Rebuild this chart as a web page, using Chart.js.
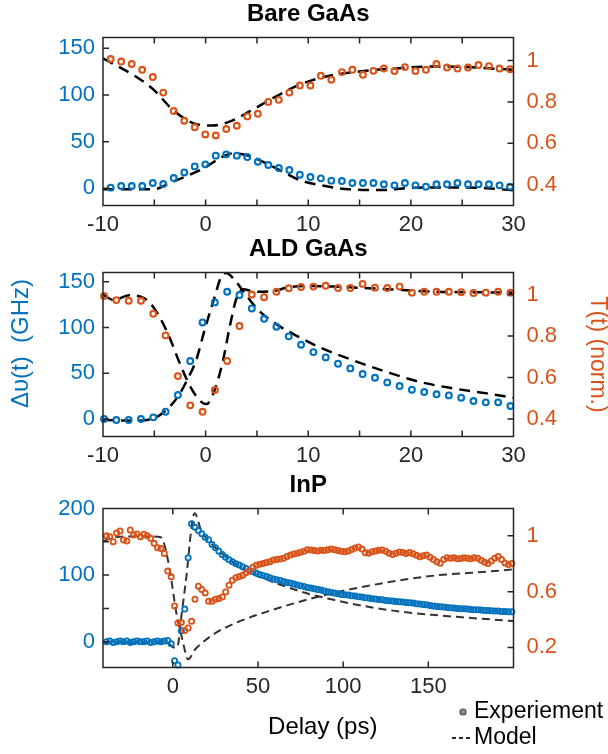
<!DOCTYPE html>
<html>
<head>
<meta charset="utf-8">
<script src="https://cdn.jsdelivr.net/npm/chart.js@4.4.0/dist/chart.umd.min.js"></script>
<style>
  html, body { margin: 0; background: #fff; }
  #fig { position: relative; width: 608px; height: 754px; }
  #fig canvas { position: absolute; left: 0; top: 0; }
</style>
</head>
<body>
<div id="fig">
  <canvas id="bare" width="608" height="754"></canvas>
  <canvas id="ald" width="608" height="754"></canvas>
  <canvas id="inp" width="608" height="754"></canvas>
</div>
<script>
// ---- Bare GaAs ----
const bareDelay = [-9.25, -8.23, -7.2, -6.18, -5.15, -4.13, -3.11, -2.08, -1.06, -0.03, 0.99, 2.01, 3.04,
  4.06, 5.09, 6.11, 7.13, 8.16, 9.18, 10.21, 11.23, 12.25, 13.28, 14.3, 15.33, 16.35, 17.37, 18.4,
  19.42, 20.45, 21.47, 22.49, 23.52, 24.54, 25.57, 26.59, 27.61, 28.64, 29.66];
const bareShift = [0.7, 2.5, 2.5, 2.5, 5.7, 4.6, 11, 17, 23.5, 25.7, 35, 36.4, 35, 33.5, 28.5, 25, 21.7,
  19.6, 14.6, 12.1, 10.7, 8.2, 7.8, 5.7, 5.7, 5.7, 4.3, 3.2, 5.7, 3.2, 1.8, 4.3, 4.3, 5.7, 4.3, 4.3,
  4.3, 3.2, 1.8];
const bareTrans = [1.007, 0.995, 0.983, 0.955, 0.92, 0.845, 0.756, 0.709, 0.678, 0.643, 0.638, 0.669,
  0.685, 0.73, 0.743, 0.8, 0.81, 0.845, 0.879, 0.879, 0.926, 0.907, 0.944, 0.955, 0.931, 0.95, 0.961,
  0.949, 0.968, 0.949, 0.955, 0.983, 0.966, 0.961, 0.966, 0.978, 0.973, 0.961, 0.958];
const bareModelShiftDelay = [-10, -5.1, -3.19, -1.24, 0.05, 1.35, 2.65, 3.95, 5.25, 7.2, 9.15, 11.1, 14,
  17.3, 20.5, 25.4, 30];
const bareModelShift = [-1, -1, 7.1, 16, 23, 32, 37.5, 35.7, 30.3, 19.6, 8.9, 3.5, -1.1, -1.8, 0.7, 1, -2];
const bareModelTransDelay = [-10, -7.08, -5.13, -3.19, -1.24, 0.7, 2.33, 4.28, 6.55, 9.15, 11.74, 14.98,
  18.88, 22.12, 25.37, 30];
const bareModelTrans = [1.01, 0.931, 0.862, 0.762, 0.698, 0.686, 0.705, 0.754, 0.818, 0.883, 0.923, 0.947,
  0.963, 0.971, 0.968, 0.955];

// ---- ALD GaAs ----
const aldDelay = [-9.9, -8.7, -7.5, -6.3, -5.1, -3.9, -2.7, -1.5, -0.3, 0.9, 2.1, 3.3, 4.5, 5.7, 6.9,
  8.1, 9.3, 10.5, 11.7, 12.9, 14.1, 15.3, 16.5, 17.7, 18.9, 20.1, 21.3, 22.5, 23.7, 24.9, 26.1, 27.3,
  28.5, 29.7];
const aldShift = [0, -1.1, -1.1, 0, 1.8, 8, 26.2, 63.3, 105.5, 127.4, 139, 135.4, 120.8, 109.5, 100.8,
  90.3, 81.1, 73.1, 67.3, 60.4, 55.3, 49.1, 45.1, 40, 36, 32, 29.5, 27, 25.8, 23.3, 19.7, 18.2, 18.2, 14.2];
const aldTrans = [0.993, 0.973, 0.97, 0.97, 0.907, 0.803, 0.607, 0.466, 0.435, 0.54, 0.68, 0.848, 1.0,
  0.987, 1.013, 1.03, 1.036, 1.038, 1.042, 1.031, 1.031, 1.051, 1.033, 1.031, 1.038, 1.009, 1.013,
  1.013, 1.013, 1.011, 1.007, 1.009, 1.013, 1.009];
const aldModelShiftDelay = [-10, -6.96, -5.33, -4.02, -2.71, -1.8, -0.92, -0.1, 0.88, 1.5, 2.0, 2.84,
  3.82, 5.13, 6.77, 8.73, 11.0, 14.3, 17.6, 20.8, 24.1, 27.4, 30];
const aldModelShift = [-1.1, -1.8, -0.3, 8, 24.3, 42.6, 64.4, 97.2, 133.5, 155, 159.5, 151.7, 137.2, 119,
  104.5, 91.7, 78.9, 64.4, 51.6, 40.7, 33.5, 28, 23.3];
const aldModelTransDelay = [-10, -8.92, -7.45, -5.98, -5.0, -3.69, -2.38, -1.4, -0.42, 0.07, 0.88, 1.7,
  2.35, 3.01, 3.67, 4.8, 6.44, 8.08, 10.04, 12.65, 15.92, 19.19, 22.45, 25.72, 30];
const aldModelTrans = [0.998, 0.973, 0.996, 0.982, 0.933, 0.813, 0.652, 0.548, 0.483, 0.472, 0.54, 0.684,
  0.845, 0.982, 1.025, 1.013, 1.015, 1.035, 1.041, 1.038, 1.03, 1.022, 1.013, 1.011, 1.009];

// ---- InP ----
const inpDelay = [-39, -37, -35, -33, -31, -29, -27, -25, -23, -21, -19, -17, -15, -13, -11, -9, -7, -5,
  -3, -1, 1, 3, 5, 7, 9, 11, 13, 15, 17, 19, 21, 23, 25, 27, 29, 31, 33, 35, 37, 39, 41, 43, 45, 47,
  49, 51, 53, 55, 57, 59, 61, 63, 65, 67, 69, 71, 73, 75, 77, 79, 81, 83, 85, 87, 89, 91, 93, 95, 97,
  99, 101, 103, 105, 107, 109, 111, 113, 115, 117, 119, 121, 123, 125, 127, 129, 131, 133, 135, 137,
  139, 141, 143, 145, 147, 149, 151, 153, 155, 157, 159, 161, 163, 165, 167, 169, 171, 173, 175, 177,
  179, 181, 183, 185, 187, 189, 191, 193, 195, 197, 199];
const inpShift = [0, 1, -1, 0, 1, 0, 1, -1, 0, 1, 0, 0, 1, -1, 0, 1, 0, 1, 2, -3, -28.5, -35, 16.5, 49,
  126, 177, 172, 167, 162, 157, 153, 146, 141, 136, 131, 127, 123, 120, 117, 115, 112.5, 110, 107, 105,
  103, 101, 99.5, 98, 96, 94, 93, 92, 90.5, 89, 88, 86.5, 85, 84, 83, 81.5, 80.5, 79.5, 78.5, 77.5, 76,
  75, 74, 73, 72, 71, 70.5, 70, 69, 68.5, 67.5, 67, 66, 65.5, 64.5, 64, 63.5, 63, 62, 61.5, 61, 60.5,
  60, 59.5, 59, 58.5, 58, 57, 56.5, 56, 55.5, 54.5, 53.5, 53, 52.5, 52, 51.5, 51, 50.5, 50, 49.5, 49.5,
  49, 48.5, 48, 48, 47.5, 47, 47, 46.5, 46, 46, 45.5, 45.5, 45, 45];
const inpTrans = [1.0, 0.994, 0.958, 1.02, 1.035, 0.97, 0.963, 1.042, 1.006, 1.013, 0.994, 1.011, 1.0,
  0.982, 0.946, 0.915, 0.91, 0.874, 0.747, 0.706, 0.497, 0.375, 0.378, 0.322, 0.339, 0.387, 0.545,
  0.639, 0.615, 0.591, 0.531, 0.531, 0.545, 0.55, 0.562, 0.598, 0.646, 0.682, 0.7, 0.708, 0.718, 0.735,
  0.747, 0.775, 0.79, 0.796, 0.802, 0.808, 0.815, 0.826, 0.83, 0.834, 0.84, 0.852, 0.862, 0.87, 0.876,
  0.882, 0.89, 0.9, 0.898, 0.894, 0.892, 0.896, 0.894, 0.9, 0.906, 0.9, 0.895, 0.89, 0.886, 0.892,
  0.902, 0.912, 0.92, 0.905, 0.878, 0.876, 0.886, 0.892, 0.896, 0.898, 0.89, 0.876, 0.867, 0.876,
  0.884, 0.88, 0.874, 0.881, 0.872, 0.86, 0.85, 0.858, 0.862, 0.846, 0.83, 0.815, 0.803, 0.83, 0.843,
  0.84, 0.842, 0.835, 0.838, 0.842, 0.84, 0.836, 0.843, 0.84, 0.825, 0.81, 0.802, 0.82, 0.84, 0.852,
  0.83, 0.806, 0.795, 0.802];
const inpModelShiftDelay = [-41, -30, -20, -10, -5, -2, 0, 2.5, 5, 7.5, 12.8, 16.6, 24.5, 32.4, 44.1,
  55.9, 75.5, 95, 114.7, 134.3, 153.9, 173.5, 200];
const inpModelShift = [-2, -1, -2, -1, -2, -4, -8, -9, 38, 88, 193, 167.5, 142.5, 125, 105, 92.5, 75,
  62.5, 52.5, 45, 40, 36, 31];
const inpModelTransDelay = [-41, -36, -25, -12, -7, -4.9, -1.6, 1.96, 5.5, 9, 13, 16.6, 24.5, 38.2,
  57.8, 77.5, 97.1, 116.7, 136.3, 155.9, 175.5, 200];
const inpModelTrans = [0.96, 0.985, 0.995, 0.995, 0.99, 0.934, 0.742, 0.454, 0.262, 0.115, 0.185, 0.227,
  0.299, 0.382, 0.466, 0.538, 0.598, 0.646, 0.687, 0.718, 0.735, 0.759];

// axis ticks (all ticks get a mark, only the listed ones get a label)
const gaasDelayTicks = [-10, -5, 0, 5, 10, 15, 20, 25, 30];
const gaasDelayLabels = [-10, 0, 10, 20, 30];
const gaasShiftTicks = [0, 50, 100, 150];
const gaasTransTicks = [0.4, 0.6, 0.8, 1];
const inpDelayTicks = [0, 50, 100, 150];
const inpShiftTicks = [0, 50, 100, 150, 200];
const inpShiftLabels = [0, 100, 200];
const inpTransTicks = [0.2, 0.6, 1];

const BLUE = '#0072BD';
const ORANGE = '#D95319';
const INK = '#262626';
const FONT = "'Liberation Sans', Arial, Helvetica, sans-serif";
const TICK_SIZE = 22;
const LABEL_SIZE = 24;

Chart.defaults.font.family = FONT;
Chart.defaults.color = INK;
Chart.defaults.animation = false;

const pts = (xs, ys) => xs.map((x, i) => ({ x, y: ys[i] }));

// closed frame with short inward tick marks, MATLAB style
const frameTicks = {
  id: 'frameTicks',
  afterDatasetsDraw(chart) {
    const { ctx, chartArea: a, scales } = chart;
    const len = 6;
    ctx.save();
    ctx.strokeStyle = INK;
    ctx.lineWidth = 1.5;
    ctx.beginPath();
    scales.x.ticks.forEach(t => {
      const px = scales.x.getPixelForValue(t.value);
      if (px <= a.left + 1 || px >= a.right - 1) return;
      ctx.moveTo(px, a.bottom); ctx.lineTo(px, a.bottom - len);
      ctx.moveTo(px, a.top); ctx.lineTo(px, a.top + len);
    });
    scales.yL.ticks.forEach(t => {
      const py = scales.yL.getPixelForValue(t.value);
      if (py <= a.top + 1 || py >= a.bottom - 1) return;
      ctx.moveTo(a.left, py); ctx.lineTo(a.left + len, py);
    });
    scales.yR.ticks.forEach(t => {
      const py = scales.yR.getPixelForValue(t.value);
      if (py <= a.top + 1 || py >= a.bottom - 1) return;
      ctx.moveTo(a.right, py); ctx.lineTo(a.right - len, py);
    });
    ctx.stroke();
    ctx.strokeRect(a.left, a.top, a.right - a.left, a.bottom - a.top);
    ctx.restore();
  }
};

// axis captions placed relative to the plot area
const captions = {
  id: 'captions',
  afterDraw(chart, args, opts) {
    if (!opts.items) return;
    const { ctx, chartArea: a } = chart;
    const cx = (a.left + a.right) / 2;
    const cy = (a.top + a.bottom) / 2;
    opts.items.forEach(c => {
      ctx.save();
      ctx.font = `${c.size}px ${FONT}`;
      ctx.fillStyle = c.color;
      ctx.textAlign = 'center';
      ctx.textBaseline = 'middle';
      if (c.side === 'left') {
        ctx.translate(c.x, cy + c.shift);
        ctx.rotate(-Math.PI / 2);
      } else {
        ctx.translate(cx + c.shift, a.bottom + c.y);
      }
      ctx.fillText(c.text, 0, 0);
      ctx.restore();
    });
  }
};

// small key under the bottom panel
const sideKey = {
  id: 'sideKey',
  afterDraw(chart, args, opts) {
    if (!opts.items) return;
    const { ctx, chartArea: a } = chart;
    ctx.save();
    ctx.font = `${opts.size}px ${FONT}`;
    ctx.textBaseline = 'middle';
    opts.items.forEach((it, i) => {
      const x = a.right + opts.dx;
      const y = a.bottom + opts.dy + i * opts.gap;
      if (it.kind === 'marker') {
        ctx.beginPath();
        ctx.arc(x - 11, y, 3, 0, Math.PI * 2);
        ctx.fillStyle = '#8c8c8c';
        ctx.fill();
        ctx.lineWidth = 1.2;
        ctx.strokeStyle = '#4d4d4d';
        ctx.stroke();
      } else {
        ctx.beginPath();
        ctx.setLineDash([4, 3]);
        ctx.lineWidth = 1.8;
        ctx.strokeStyle = INK;
        ctx.moveTo(x - 22, y);
        ctx.lineTo(x - 2, y);
        ctx.stroke();
        ctx.setLineDash([]);
      }
      ctx.fillStyle = '#000';
      ctx.fillText(it.text, x, y);
    });
    ctx.restore();
  }
};

function markers(xs, ys, color, axis, r, w) {
  return {
    data: pts(xs, ys), yAxisID: axis, showLine: false, clip: false,
    borderColor: color, backgroundColor: 'rgba(0,0,0,0)',
    pointRadius: r, pointBorderWidth: w, pointHoverRadius: r
  };
}

function model(xs, ys, axis, color, width, dash) {
  return {
    data: pts(xs, ys), yAxisID: axis, showLine: true,
    borderColor: color, borderWidth: width, borderDash: dash,
    pointRadius: 0, cubicInterpolationMode: 'monotone', fill: false
  };
}

function panel(id, p) {
  const withLabels = list => v => (list.includes(v) ? String(v) : '');
  return new Chart(document.getElementById(id), {
    type: 'scatter',
    data: { datasets: p.datasets },
    plugins: [frameTicks, captions, sideKey],
    options: {
      responsive: false,
      events: [],
      layout: { padding: { top: p.padTop, bottom: p.padBottom, left: 0, right: 0 } },
      plugins: {
        legend: { display: false },
        tooltip: { enabled: false },
        title: {
          display: true, text: p.title, fullSize: false, color: '#000',
          font: { size: LABEL_SIZE, weight: 'bold', lineHeight: 1.2 },
          padding: { top: 0, bottom: 8.7 }
        },
        captions: { items: p.captions },
        sideKey: p.key || {}
      },
      scales: {
        x: {
          type: 'linear', position: 'bottom', min: p.xMin, max: p.xMax,
          afterBuildTicks: s => { s.ticks = p.xTicks.map(v => ({ value: v })); },
          afterFit: s => { s.height = p.xHeight; },
          grid: { display: false, drawTicks: false },
          border: { display: false },
          ticks: {
            color: INK, font: { size: TICK_SIZE }, padding: 6, maxRotation: 0, autoSkip: false,
            callback: withLabels(p.xLabels)
          }
        },
        yL: {
          type: 'linear', position: 'left', min: p.yLMin, max: p.yLMax,
          afterBuildTicks: s => { s.ticks = p.yLTicks.map(v => ({ value: v })); },
          afterFit: s => { s.width = 103; },
          grid: { display: false, drawTicks: false },
          border: { display: false },
          ticks: {
            color: BLUE, font: { size: TICK_SIZE }, padding: 8, autoSkip: false,
            callback: withLabels(p.yLLabels)
          }
        },
        yR: {
          type: 'linear', position: 'right', min: p.yRMin, max: p.yRMax,
          afterBuildTicks: s => { s.ticks = p.yRTicks.map(v => ({ value: v })); },
          afterFit: s => { s.width = 94.5; },
          grid: { display: false, drawTicks: false },
          border: { display: false },
          ticks: {
            color: ORANGE, font: { size: TICK_SIZE }, padding: 13, autoSkip: false,
            callback: withLabels(p.yRTicks)
          },
          title: p.yRTitle ? {
            display: true, text: p.yRTitle, color: ORANGE,
            font: { size: 23, lineHeight: 1 }, padding: { top: -1, bottom: 0 }
          } : { display: false }
        }
      }
    }
  });
}

panel('bare', {
  title: 'Bare GaAs', padTop: 0, padBottom: 508.5, xHeight: 40,
  xMin: -10, xMax: 30, xTicks: gaasDelayTicks, xLabels: gaasDelayLabels,
  yLMin: -18.4, yLMax: 161.6, yLTicks: gaasShiftTicks, yLLabels: gaasShiftTicks,
  yRMin: 0.3, yRMax: 1.111, yRTicks: gaasTransTicks,
  datasets: [
    markers(bareDelay, bareTrans, ORANGE, 'yR', 2.9, 2.1),
    markers(bareDelay, bareShift, BLUE, 'yL', 2.9, 2.1),
    model(bareModelTransDelay, bareModelTrans, 'yR', '#000', 2.5, [11, 7]),
    model(bareModelShiftDelay, bareModelShift, 'yL', '#000', 2.5, [11, 7])
  ]
});

panel('ald', {
  title: 'ALD GaAs', padTop: 235, padBottom: 277.5, xHeight: 40,
  xMin: -10, xMax: 30, xTicks: gaasDelayTicks, xLabels: gaasDelayLabels,
  yLMin: -19.1, yLMax: 160.05, yLTicks: gaasShiftTicks, yLLabels: gaasShiftTicks,
  yRMin: 0.316, yRMax: 1.106, yRTicks: gaasTransTicks,
  yRTitle: 'T(t) (norm.)',
  captions: [{ side: 'left', text: 'Δυ(t)  (GHz)', x: 21, shift: -11, size: 24, color: BLUE }],
  datasets: [
    markers(aldDelay, aldTrans, ORANGE, 'yR', 2.9, 2.1),
    markers(aldDelay, aldShift, BLUE, 'yL', 2.9, 2.1),
    model(aldModelTransDelay, aldModelTrans, 'yR', '#000', 2.5, [11, 7]),
    model(aldModelShiftDelay, aldModelShift, 'yL', '#000', 2.5, [11, 7])
  ]
});

panel('inp', {
  title: 'InP', padTop: 471, padBottom: 0, xHeight: 86.5,
  xMin: -41, xMax: 200, xTicks: inpDelayTicks, xLabels: inpDelayTicks,
  yLMin: -38.7, yLMax: 200, yLTicks: inpShiftTicks, yLLabels: inpShiftLabels,
  yRMin: 0.056, yRMax: 1.196, yRTicks: inpTransTicks,
  captions: [{ side: 'bottom', text: 'Delay (ps)', y: 59.5, shift: 14.5, size: LABEL_SIZE, color: '#000' }],
  key: {
    size: 23, dx: -39.5, dy: 44.5, gap: 26,
    items: [{ kind: 'marker', text: 'Experiement' }, { kind: 'line', text: 'Model' }]
  },
  datasets: [
    markers(inpDelay, inpTrans, ORANGE, 'yR', 2.6, 1.8),
    markers(inpDelay, inpShift, BLUE, 'yL', 2.6, 1.8),
    model(inpModelTransDelay, inpModelTrans, 'yR', '#333333', 2, [8, 5]),
    model(inpModelShiftDelay, inpModelShift, 'yL', '#333333', 2, [8, 5])
  ]
});
</script>
</body>
</html>
